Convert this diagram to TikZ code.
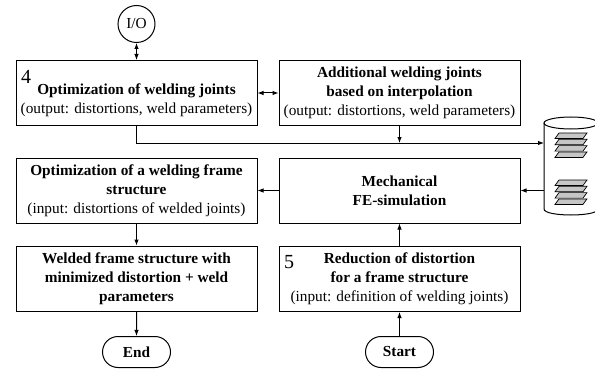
\documentclass[tikz,border=0pt]{standalone}
\usepackage{fontspec}
\setmainfont{Liberation Serif}
\usetikzlibrary{arrows.meta,shapes.misc}

\begin{document}
\begin{tikzpicture}[x=1pt,y=-1pt,line width=1pt,
	font=\fontsize{15.3}{19}\selectfont,
	>={Latex[length=6pt,width=4.5pt]},
	box/.style={draw, rectangle, minimum width=241, minimum height=65, align=center, inner sep=2pt},
	term/.style={draw, rounded rectangle, minimum width=72, minimum height=31, inner sep=2pt, font=\fontsize{15.3}{19}\selectfont\bfseries},
	num/.style={anchor=north west, inner sep=0pt, font=\fontsize{20}{20}\selectfont},
	plate/.style={draw, fill=gray!45, line width=0.7pt}]
	%\draw[help lines] (0,0) grid[step=20] (595,369);
	\clip (0,0) rectangle (595,369);
	
	\node[draw, circle, minimum size=37, inner sep=0pt] (io) at (136.5,24) {I/O};
	\node[box] (opt4) at (136.5,93) {\rule{0pt}{25pt}\textbf{Optimization of welding joints}\\(output: distortions, weld parameters)};
	\node[num] (n4) at ([xshift=5pt,yshift=-10pt]opt4.north west) {4};
	\node[box] (interp) at (399.5,93) {\textbf{Additional welding joints}\\\textbf{based on interpolation}\\(output: distortions, weld parameters)};
	\node[box] (frame) at (136.5,190.5) {\textbf{Optimization of a welding frame}\\\textbf{structure}\\(input: distortions of welded joints)};
	\node[box] (fesim) at (399.5,190.5) {\textbf{Mechanical}\\\textbf{FE-simulation}};
	\node[box] (welded) at (136.5,278.5) {\textbf{Welded frame structure with}\\\textbf{minimized distortion + weld}\\\textbf{parameters}};
	\node[box] (reduce) at (399.5,279) {\textbf{Reduction of distortion}\\\textbf{for a frame structure}\\(input: definition of welding joints)};
	\node[num] (n5) at ([xshift=5pt,yshift=-9pt]reduce.north west) {5};
	\node[term] (start) at (399.5,352) {Start};
	\node[term] (finish) at (136.5,352) {End};
	
	% database
	\draw (544,123) -- (544,209) .. controls (544,217) and (598,217) .. (598,209) -- (598,123);
	\draw (571,123) ellipse [x radius=27pt, y radius=6pt];
	\foreach \sy in {133,180}{
		\foreach \k in {3,2,1,0}{
			\draw[plate] (559,\sy+\k*6.3) -- ++(28,0) -- ++(-4,5.5) -- ++(-28,0) -- cycle;
		}
	}
	\coordinate (dbin) at (544,143);
	\coordinate (dbout) at (544,190.5);
	
	\draw[<->] (io) -- (opt4);
	\draw[<->] (opt4) -- (interp);
	\draw[->] (opt4.south) |- (dbin);
	\draw[->] (interp.south) -- (interp.south |- dbin);
	\draw[->] (dbout) -- (fesim.east);
	\draw[->] (fesim) -- (frame);
	\draw[->] (frame) -- (welded);
	\draw[->] (welded) -- (finish);
	\draw[->] (start) -- (reduce);
	\draw[->] (reduce) -- (fesim);
\end{tikzpicture}
\end{document}
